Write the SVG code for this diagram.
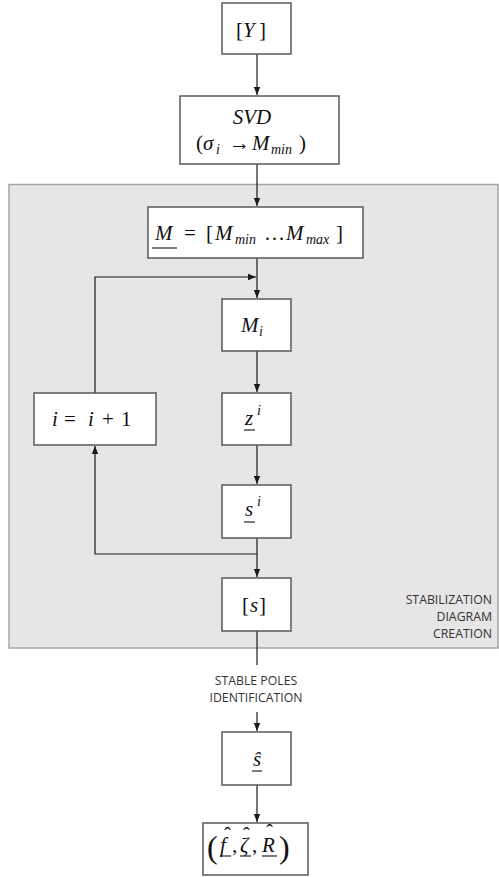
<svg xmlns="http://www.w3.org/2000/svg" width="499" height="877" viewBox="0 0 499 877">
<defs>
<style>
.box{fill:#fff;stroke:#595959;stroke-width:1.5}
.ln{fill:none;stroke:#1a1a1a;stroke-width:1.2}
.m{font-family:"Liberation Serif","DejaVu Serif",serif;font-size:21px;fill:#111}
.i{font-style:italic}
.sub{font-size:14px}
.lab{font-family:"Open Sans","Liberation Sans",sans-serif;font-size:12.3px;fill:#333}
.ul{stroke:#111;stroke-width:1.1}
</style>
<marker id="ah" viewBox="0 0 8 8" refX="8" refY="4" markerWidth="8" markerHeight="8" markerUnits="userSpaceOnUse" orient="auto">
<path d="M0,0.8 L8,4 L0,7.2 Z" fill="#1a1a1a"/>
</marker>
</defs>
<rect x="0" y="0" width="499" height="877" fill="#fff"/>
<g id="region">
<rect x="9" y="184.5" width="489" height="463.5" fill="#e6e6e6" stroke="#a6a6a6" stroke-width="1.5"/>
<text class="lab" text-anchor="end"><tspan x="492" y="604">STABILIZATION</tspan><tspan x="492" y="621">DIAGRAM</tspan><tspan x="492" y="638">CREATION</tspan></text>
</g>
<g id="connectors">
<path class="ln" d="M257,54 V95" marker-end="url(#ah)"/>
<path class="ln" d="M257,164 V206" marker-end="url(#ah)"/>
<path class="ln" d="M257,258 V298" marker-end="url(#ah)"/>
<path class="ln" d="M95,393 V277 H256" marker-end="url(#ah)"/>
<path class="ln" d="M257,351 V392" marker-end="url(#ah)"/>
<path class="ln" d="M257,445 V484" marker-end="url(#ah)"/>
<path class="ln" d="M257,538 V577" marker-end="url(#ah)"/>
<path class="ln" d="M257,554 H95 V446" marker-end="url(#ah)"/>
<path class="ln" d="M257,631 V665"/>
<path class="ln" d="M257,712 V731" marker-end="url(#ah)"/>
<path class="ln" d="M257,785 V822" marker-end="url(#ah)"/>
<text class="lab" text-anchor="middle"><tspan x="256" y="685">STABLE POLES</tspan><tspan x="256" y="702">IDENTIFICATION</tspan></text>
</g>
<g id="n-Y">
<rect class="box" x="222" y="3" width="69" height="51"/>
<text class="m" font-size="23"><tspan x="236" y="37">[</tspan><tspan class="i" x="243" y="37">Y</tspan><tspan x="259" y="37">]</tspan></text>
</g>
<g id="n-SVD">
<rect class="box" x="180" y="96" width="159" height="68"/>
<text class="m i" x="252" y="124" text-anchor="middle">SVD</text>
<text class="m"><tspan x="196" y="150">(</tspan><tspan class="i" x="203" y="150">σ</tspan><tspan class="i sub" x="216" y="154">i</tspan><tspan x="229" y="150">→</tspan><tspan class="i" x="252" y="150">M</tspan><tspan class="i sub" x="271" y="154">min</tspan><tspan x="299" y="150">)</tspan></text>
</g>
<g id="n-M">
<rect class="box" x="148" y="207" width="215" height="51"/>
<text class="m"><tspan class="i" x="155" y="240">M</tspan><tspan x="184" y="240">=</tspan><tspan x="206" y="240">[</tspan><tspan class="i" x="215" y="240">M</tspan><tspan class="i sub" x="235" y="244">min</tspan><tspan x="264" y="240">…</tspan><tspan class="i" x="286" y="240">M</tspan><tspan class="i sub" x="306" y="244">max</tspan><tspan x="336" y="240">]</tspan></text>
<line class="ul" x1="152" y1="248" x2="177" y2="248"/>
</g>
<g id="n-Mi">
<rect class="box" x="222" y="299" width="69" height="52"/>
<text class="m"><tspan class="i" x="241" y="332">M</tspan><tspan class="i sub" x="259" y="336">i</tspan></text>
</g>
<g id="n-z">
<rect class="box" x="222" y="393" width="69" height="52"/>
<text class="m"><tspan class="i" x="245" y="425">z</tspan><tspan class="i sub" x="257" y="415">i</tspan></text>
<line class="ul" x1="244" y1="430" x2="255" y2="430"/>
</g>
<g id="n-inc">
<rect class="box" x="34" y="393" width="122" height="52"/>
<text class="m"><tspan class="i" x="52" y="426">i</tspan><tspan x="64" y="426">=</tspan><tspan class="i" x="88" y="426">i</tspan><tspan x="102" y="426">+</tspan><tspan x="121" y="426">1</tspan></text>
</g>
<g id="n-s">
<rect class="box" x="222" y="485" width="69" height="53"/>
<text class="m"><tspan class="i" x="245" y="516">s</tspan><tspan class="i sub" x="257" y="506">i</tspan></text>
<line class="ul" x1="244" y1="522" x2="255" y2="522"/>
</g>
<g id="n-S">
<rect class="box" x="222" y="578" width="69" height="53"/>
<text class="m"><tspan x="242" y="612">[</tspan><tspan class="i" x="250" y="612">s</tspan><tspan x="259" y="612">]</tspan></text>
</g>
<g id="n-shat">
<rect class="box" x="222" y="732" width="69" height="53"/>
<text class="m i" x="257" y="766" text-anchor="middle">ŝ</text>
<line class="ul" x1="252" y1="771" x2="262" y2="771"/>
</g>
<g id="n-out">
<rect class="box" x="203" y="823" width="105" height="52"/>
<text class="m"><tspan x="207" y="858" font-size="32">(</tspan><tspan class="i" x="220" y="852">f</tspan><tspan x="232" y="852">,</tspan><tspan class="i" x="240" y="852">ζ</tspan><tspan x="252" y="852">,</tspan><tspan class="i" x="262" y="852">R</tspan><tspan x="279" y="858" font-size="32">)</tspan></text>
<text class="m" font-size="15"><tspan x="224" y="842">ˆ</tspan><tspan x="243" y="842">ˆ</tspan><tspan x="266" y="839">ˆ</tspan></text>
<line class="ul" x1="220" y1="856" x2="231" y2="856"/>
<line class="ul" x1="240" y1="856" x2="251" y2="856"/>
<line class="ul" x1="262" y1="856" x2="277" y2="856"/>
</g>
</svg>
